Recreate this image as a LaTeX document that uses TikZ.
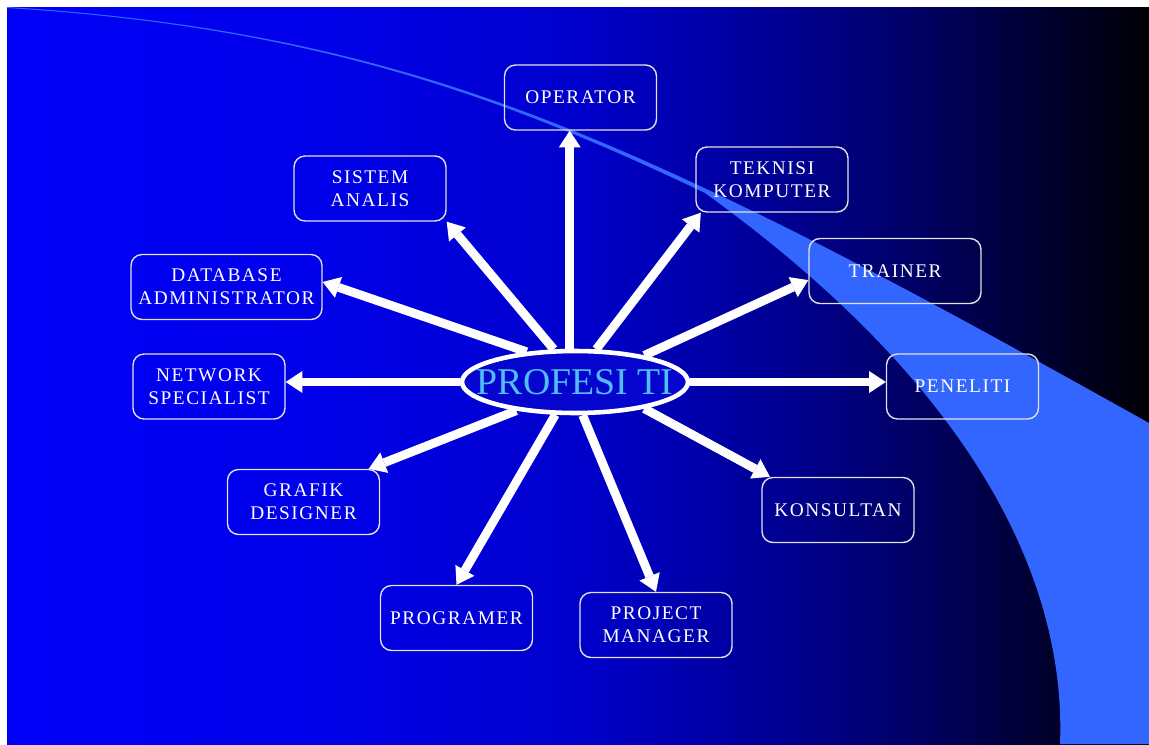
\documentclass[tikz,border=0pt]{standalone}
\usepackage{fontspec}
\setmainfont{Liberation Serif}
\newfontfamily\boxfont[LetterSpace=8]{Liberation Serif}
\usetikzlibrary{shapes.geometric,arrows.meta}
\definecolor{swoosh}{RGB}{51,102,255}
\definecolor{boxline}{RGB}{225,225,232}
\definecolor{titlecol}{RGB}{80,190,250}
\definecolor{ellfill}{RGB}{5,5,205}
\pgfdeclarehorizontalshading{slidebg}{100bp}{rgb(0bp)=(0,0,0.97); rgb(25bp)=(0,0,0.97); rgb(38bp)=(0,0,0.92); rgb(50bp)=(0,0,0.80); rgb(58bp)=(0,0,0.60); rgb(64bp)=(0,0,0.42); rgb(70bp)=(0,0,0.2); rgb(75bp)=(0,0,0.02); rgb(100bp)=(0,0,0)}
\begin{document}
\begin{tikzpicture}[x=0.02cm,y=-0.02cm,
  job/.style={draw=boxline, line width=0.8pt, rounded corners=0.22cm,
    minimum width=3.04cm, minimum height=1.3cm, inner sep=0pt, align=center,
    text=white, font=\boxfont\fontsize{11}{13}\selectfont},
  arr/.style={white, line width=5pt,
    -{Triangle[width=12.5pt,length=9.5pt,line width=0pt]}},
  hub/.style={ellipse, draw=white, line width=2.6pt, fill=ellfill,
    minimum width=4.52cm, minimum height=1.24cm, inner sep=0pt,
    text=titlecol, font=\fontsize{21.5}{24}\selectfont}]
\useasboundingbox (0,0) rectangle (1149,744);
\fill[white] (0,0) rectangle (1149,744);
\shade[shading=slidebg] (7,7) rectangle (1149,744);
\fill[swoosh] (7,7) .. controls (300,25) and (490,88) .. (700,186)
  .. controls (850,256) and (1000,340) .. (1149,423)
  -- (1149,744) -- (1060,744)
  .. controls (1066,590) and (985,395) .. (705,193)
  .. controls (490,90) and (300,26) .. (7,8) -- cycle;
\node[hub] (pt) at (575,382) {\makebox[0pt]{PROFESI TI}};
\node[job] (op) at (580.5,97.5) {OPERATOR};
\node[job] (sa) at (370,188.5) {SISTEM\\ANALIS};
\node[job] (tk) at (772,179.5) {TEKNISI\\KOMPUTER};
\node[job, minimum width=3.82cm] (db) at (226.5,287) {DATABASE\\ADMINISTRATOR};
\node[job, minimum width=3.44cm] (tr) at (895,271) {TRAINER};
\node[job] (ns) at (209,386.5) {NETWORK\\SPECIALIST};
\node[job] (pe) at (962.5,386.5) {PENELITI};
\node[job] (gd) at (303.5,502) {GRAFIK\\DESIGNER};
\node[job] (ko) at (838,510) {KONSULTAN};
\node[job] (pg) at (456.5,618) {PROGRAMER};
\node[job] (pm) at (656,625) {PROJECT\\MANAGER};
\draw[arr] (pt.99) -- (pt.99 |- op.south);
\draw[arr] (pt.123) -- (sa.south east);
\draw[arr] (pt.57) -- (tk.205);
\draw[arr] (pt.148) -- (db.3);
\draw[arr] (pt.21) -- (tr.186);
\draw[arr] (pt.west) -- (pt.west -| ns.east);
\draw[arr] (pt.east) -- (pt.east -| pe.west);
\draw[arr] (pt.206) -- (gd.27);
\draw[arr] (pt.339) -- (ko.154);
\draw[arr] (pt.239) -- (pg.north);
\draw[arr] (pt.283) -- (pm.north);
\end{tikzpicture}
\end{document}
